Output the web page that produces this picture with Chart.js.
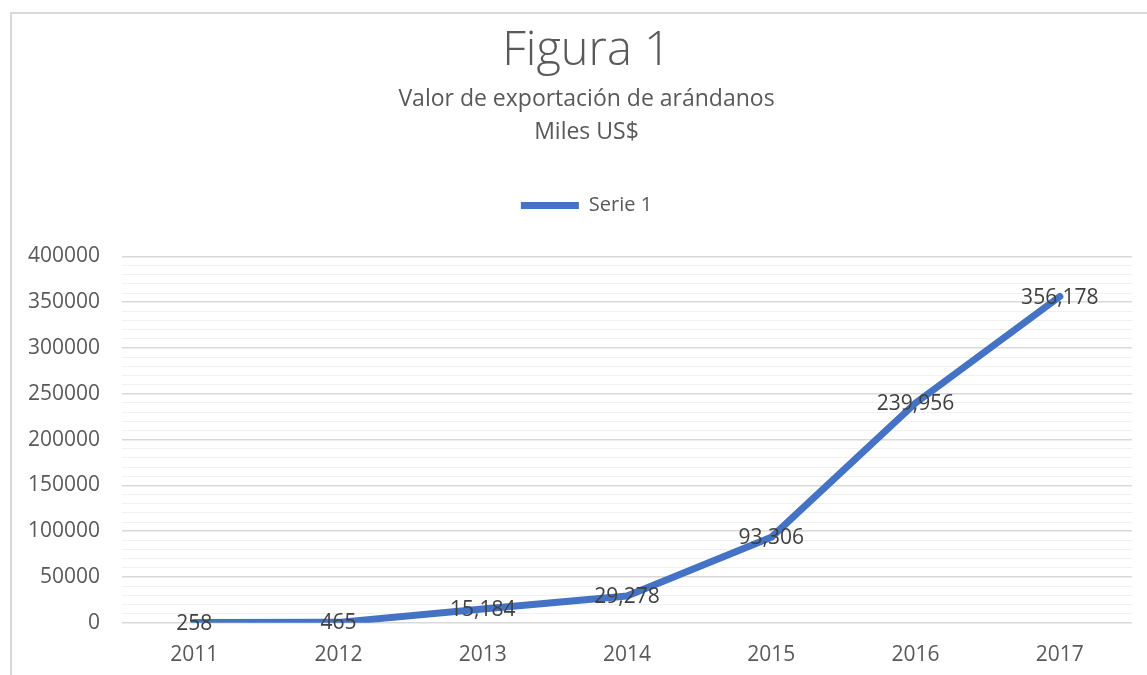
<!DOCTYPE html>
<html>
<head>
<meta charset="utf-8">
<script src="https://cdn.jsdelivr.net/npm/chart.js@4.4.1/dist/chart.umd.min.js"></script>
<style>
  html, body { margin: 0; padding: 0; background: #ffffff; overflow: hidden; }
  #frame { position: absolute; left: 10px; top: 12px; width: 1150px; height: 700px; border: 2px solid #d9d9d9; box-sizing: content-box; }
  #wrap { position: absolute; left: 0; top: 0; width: 1140px; height: 700px; }
</style>
</head>
<body>
<div id="frame"><div id="wrap"><canvas id="c"></canvas></div></div>
<script>
const categories = ['2011', '2012', '2013', '2014', '2015', '2016', '2017'];
const serie1 = [258, 465, 15184, 29278, 93306, 239956, 356178];
const seriesName = 'Serie 1';
const titleText = 'Figura 1';
const subtitleLines = ['Valor de exportación de arándanos', 'Miles US$'];

const FONT = "'Open Sans', 'Noto Sans', sans-serif";

const legendSpacer = {
  id: 'legendSpacer',
  beforeInit(chart) {
    const fit = chart.legend.fit;
    chart.legend.fit = function () {
      fit.bind(chart.legend)();
      this.height += 31;
    };
  }
};

// Centre the heading boxes on the whole chart frame rather than on the axis+plot span
const headerShift = {
  id: 'headerShift',
  afterLayout(chart) {
    chart.boxes.forEach((b) => {
      if (b.position === 'top') { b.left += 16; }
    });
  }
};

const valueLabels = {
  id: 'valueLabels',
  afterDatasetsDraw(chart) {
    const ctx = chart.ctx;
    chart.data.datasets.forEach((ds, i) => {
      const meta = chart.getDatasetMeta(i);
      ctx.save();
      ctx.font = "21px " + FONT;
      ctx.fillStyle = '#404040';
      ctx.textAlign = 'center';
      ctx.textBaseline = 'middle';
      meta.data.forEach((pt, j) => {
        ctx.fillText(ds.data[j].toLocaleString('en-US'), pt.x, pt.y + 1);
      });
      ctx.restore();
    });
  }
};

new Chart(document.getElementById('c'), {
  type: 'line',
  data: {
    labels: categories,
    datasets: [{
      label: seriesName,
      data: serie1,
      borderColor: '#4472C4',
      backgroundColor: '#4472C4',
      borderWidth: 7,
      borderCapStyle: 'round',
      borderJoinStyle: 'round',
      pointRadius: 0,
      pointHoverRadius: 0,
      tension: 0,
      fill: false
    }]
  },
  options: {
    responsive: true,
    maintainAspectRatio: false,
    animation: false,
    layout: { padding: { left: 13, right: 20, top: 0, bottom: 26 } },
    plugins: {
      title: {
        display: true,
        text: titleText,
        color: '#595959',
        font: { family: FONT, size: 47, weight: '300', lineHeight: 1.2 },
        padding: { top: 9, bottom: 0 }
      },
      subtitle: {
        display: true,
        text: subtitleLines,
        color: '#595959',
        font: { family: FONT, size: 23, weight: 'normal', lineHeight: 1.435 },
        padding: { top: 4, bottom: 36 }
      },
      legend: {
        display: true,
        position: 'top',
        labels: {
          color: '#595959',
          font: { family: FONT, size: 20 },
          usePointStyle: true,
          pointStyle: 'line',
          pointStyleWidth: 58,
          padding: 10
        }
      },
      tooltip: { enabled: false }
    },
    scales: {
      x: {
        offset: true,
        grid: { display: false, drawTicks: false },
        border: { display: false },
        ticks: { color: '#595959', font: { family: FONT, size: 21 }, padding: 20 }
      },
      y: {
        min: 0,
        max: 400000,
        afterFit: (scale) => { scale.width = 97; },
        grid: {
          drawTicks: false,
          color: (c) => (c.tick && c.tick.value % 50000 === 0) ? '#d9d9d9' : '#f0f0f0',
          lineWidth: (c) => (c.tick && c.tick.value % 50000 === 0) ? 1.5 : 1
        },
        border: { display: false },
        ticks: {
          stepSize: 10000,
          autoSkip: false,
          color: '#595959',
          font: { family: FONT, size: 21 },
          padding: 22,
          callback: (v) => (v % 50000 === 0) ? String(v) : ''
        }
      }
    }
  },
  plugins: [legendSpacer, headerShift, valueLabels]
});
</script>
</body>
</html>
